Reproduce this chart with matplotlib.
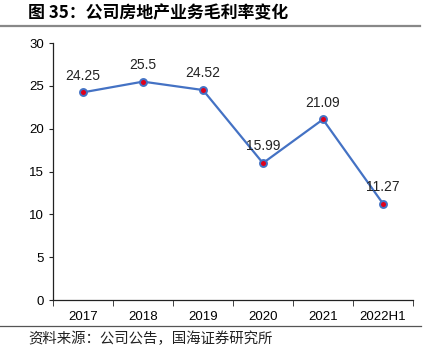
import matplotlib
matplotlib.use("Agg")
from matplotlib import pyplot as plt
from matplotlib.lines import Line2D

plt.rcParams["font.family"] = ["Liberation Sans", "Noto Sans CJK SC", "DejaVu Sans"]

years = ["2017", "2018", "2019", "2020", "2021", "2022H1"]
margin = [24.25, 25.5, 24.52, 15.99, 21.09, 11.27]
labels = ["24.25", "25.5", "24.52", "15.99", "21.09", "11.27"]

fig = plt.figure(figsize=(4.31, 3.56), dpi=100)
ax = fig.add_axes([0.123, 0.157, 0.835, 0.722])

xs = list(range(len(years)))
ax.plot(xs, margin, color="#4472C4", linewidth=1.6, marker="o",
        markersize=5, markerfacecolor="#E0001B", markeredgecolor="#4472C4",
        markeredgewidth=1.4, zorder=3)
for x, y, t in zip(xs, margin, labels):
    ax.annotate(t, (x, y), xytext=(0, 7), textcoords="offset points",
                ha="center", va="bottom", fontsize=10, color="#222222")

ax.set_xlim(-0.5, len(years) - 0.5)
ax.set_ylim(0, 30)
ax.set_yticks(range(0, 31, 5))
ax.set_xticks(xs)
ax.set_xticklabels(years)
ax.set_xticks([i - 0.5 for i in range(len(years) + 1)], minor=True)
ax.tick_params(axis="x", which="major", length=0, pad=8, labelsize=9.5)
ax.tick_params(axis="x", which="minor", length=4, direction="out", color="#222222")
ax.tick_params(axis="y", length=3, direction="out", labelsize=9.5, color="#222222")
for s in ["top", "right"]:
    ax.spines[s].set_visible(False)
for s in ["left", "bottom"]:
    ax.spines[s].set_color("#222222")
    ax.spines[s].set_linewidth(0.9)

fig.text(0.065, 0.963, "图 35：公司房地产业务毛利率变化", fontsize=12.2,
         fontweight="bold", va="center", ha="left",
         family=["Noto Sans CJK SC", "DejaVu Sans"])
fig.add_artist(Line2D([0.0, 0.975], [0.928, 0.928], color="#888888", linewidth=1.6))
fig.add_artist(Line2D([0.0, 0.977], [0.083, 0.083], color="#555555", linewidth=0.9))
fig.text(0.065, 0.048, "资料来源：公司公告，国海证券研究所", fontsize=10.4,
         va="center", ha="left", color="#222222",
         family=["Noto Sans CJK SC", "DejaVu Sans"])

fig.savefig("out.png", dpi=100)
